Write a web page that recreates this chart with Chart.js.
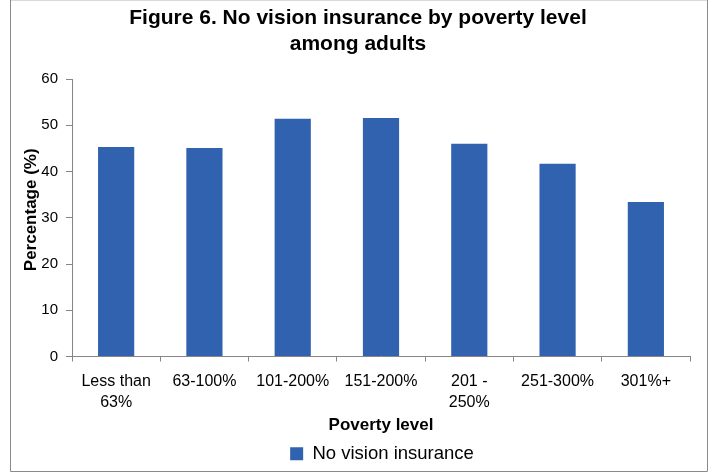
<!DOCTYPE html>
<html>
<head>
<meta charset="utf-8">
<script src="https://cdn.jsdelivr.net/npm/chart.js@4/dist/chart.umd.min.js"></script>
<style>
  html, body { margin: 0; padding: 0; background: #ffffff; }
  #wrap { width: 712px; height: 473px; position: relative; }
</style>
</head>
<body>
<div id="wrap"><canvas id="chart" width="712" height="473"></canvas></div>
<script>
// Poverty level groups (multi-line labels as arrays)
const categories = [["Less than", "63%"], "63-100%", "101-200%", "151-200%", ["201 -", "250%"], "251-300%", "301%+"];
// Share of adults with no vision insurance (%)
const noVisionInsurance = [45.3, 45.1, 51.4, 51.6, 46.0, 41.7, 33.4];
// Y-axis tick values
const yTicks = [0, 10, 20, 30, 40, 50, 60];

const seriesLabel = "No vision insurance";
const titleLines = ["Figure 6. No vision insurance by poverty level", "among adults"];
const FONT = "'Liberation Sans', Arial, Helvetica, sans-serif";
const AXIS = "#868686";
const BAR = "#3162AF";

// Thin frame around the whole figure
const framePlugin = {
  id: "frame",
  afterDraw(chart) {
    const ctx = chart.ctx;
    ctx.save();
    ctx.strokeStyle = "#d9d9d9";
    ctx.lineWidth = 1;
    ctx.beginPath();
    ctx.moveTo(10.5, 0.5); ctx.lineTo(707.5, 0.5);
    ctx.stroke();
    ctx.strokeStyle = "#8a8a8a";
    ctx.beginPath();
    ctx.moveTo(10.5, 0); ctx.lineTo(10.5, 471.5); ctx.lineTo(707.5, 471.5); ctx.lineTo(707.5, 0);
    ctx.stroke();
    ctx.restore();
  }
};

// Centre the title and legend over the plot area, and lift the y-axis title a little
const centerPlugin = {
  id: "centerOverPlot",
  afterLayout(chart) {
    const t = chart.titleBlock;
    if (t) { t.left += 7; t.right += 7; }
    const l = chart.legend;
    if (l) { l.left += 31; l.right += 31; }
    const y = chart.scales.y;
    if (y && !y._titleShifted) {
      const orig = y.drawTitle;
      y.drawTitle = function () {
        const top = this.top, bottom = this.bottom;
        this.top -= 8; this.bottom -= 8;
        orig.call(this);
        this.top = top; this.bottom = bottom;
      };
      y._titleShifted = true;
    }
  }
};

new Chart(document.getElementById("chart"), {
  type: "bar",
  data: {
    labels: categories,
    datasets: [{
      label: seriesLabel,
      data: noVisionInsurance,
      backgroundColor: BAR,
      borderWidth: 0,
      barPercentage: 0.82,
      categoryPercentage: 0.5
    }]
  },
  options: {
    responsive: false,
    animation: false,
    devicePixelRatio: 1,
    layout: { padding: { left: 12, right: 22, top: 3, bottom: 0 } },
    plugins: {
      title: {
        display: true,
        text: titleLines,
        color: "#000000",
        font: { family: FONT, size: 21, weight: "bold", lineHeight: 1.24 },
        padding: { top: 2, bottom: 22 }
      },
      legend: {
        display: true,
        position: "bottom",
        labels: {
          color: "#000000",
          font: { family: FONT, size: 18.5 },
          boxWidth: 13,
          boxHeight: 13,
          padding: 5
        }
      },
      tooltip: { enabled: false }
    },
    scales: {
      x: {
        afterFit(scale) { scale.height -= 11; },
        grid: {
          display: true,
          offset: true,
          drawOnChartArea: false,
          drawTicks: true,
          tickLength: 5,
          color: AXIS
        },
        border: { display: true, color: AXIS, width: 1 },
        ticks: {
          color: "#000000",
          font: { family: FONT, size: 16, lineHeight: 1.3 },
          padding: 10,
          maxRotation: 0,
          autoSkip: false
        },
        title: {
          display: true,
          text: "Poverty level",
          color: "#000000",
          font: { family: FONT, size: 17, weight: "bold" },
          padding: { top: 3, bottom: 4 }
        }
      },
      y: {
        min: 0,
        max: 60,
        afterBuildTicks(scale) { scale.ticks = yTicks.map(v => ({ value: v })); },
        afterFit(scale) { scale.width = 60; },
        grid: {
          display: true,
          drawOnChartArea: false,
          drawTicks: true,
          tickLength: 6,
          color: AXIS
        },
        border: { display: true, color: AXIS, width: 1 },
        ticks: {
          color: "#000000",
          font: { family: FONT, size: 15 },
          padding: 8
        },
        title: {
          display: true,
          text: "Percentage (%)",
          color: "#000000",
          font: { family: FONT, size: 17, weight: "bold" },
          padding: { top: 9, bottom: 0 }
        }
      }
    }
  },
  plugins: [framePlugin, centerPlugin]
});
</script>
</body>
</html>
